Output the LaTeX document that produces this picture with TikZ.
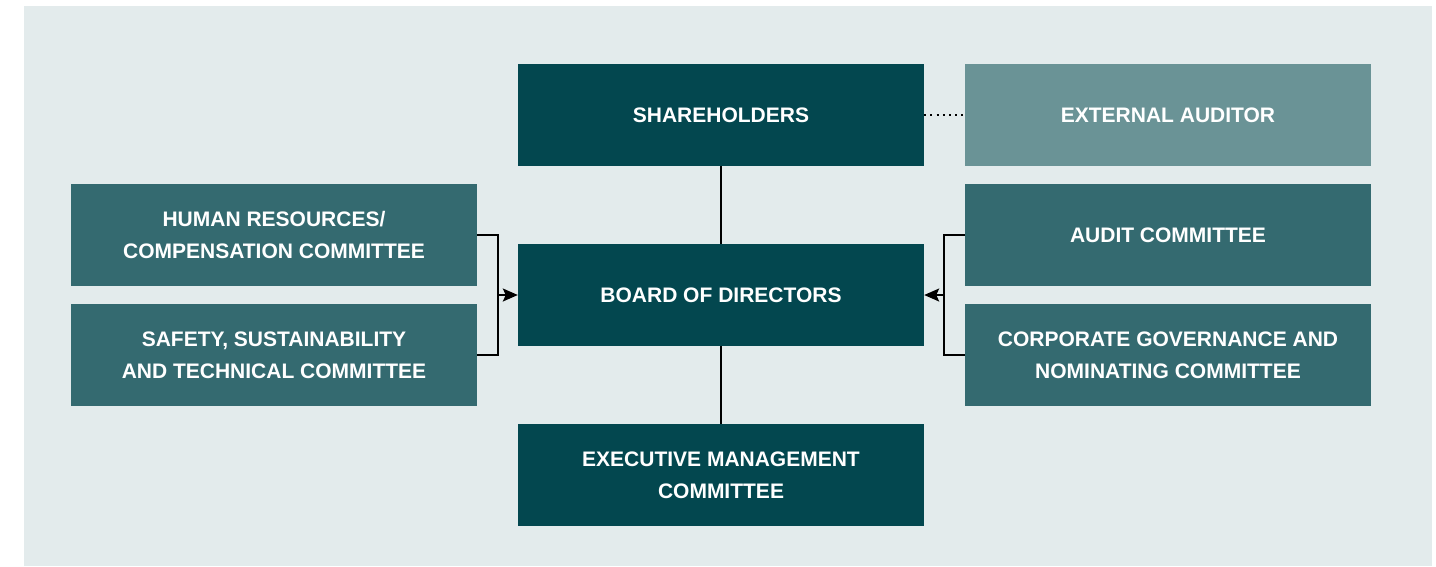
\documentclass[tikz,border=0pt]{standalone}
\usepackage{fontspec}
\setsansfont{Liberation Sans}
\usetikzlibrary{arrows.meta}

\definecolor{deepteal}{HTML}{03474F}
\definecolor{midteal}{HTML}{346A70}
\definecolor{paleteal}{HTML}{6A9396}
\definecolor{panel}{HTML}{E3EBEC}

\begin{document}
\begin{tikzpicture}[x=1pt, y=-1pt,
	box/.style={minimum width=406pt, minimum height=102pt, inner sep=0pt, align=center,
		text=white, font=\sffamily\bfseries\fontsize{21}{32}\selectfont},
	main/.style={box, fill=deepteal},
	committee/.style={box, fill=midteal},
	link/.style={line width=2pt, black},
	feed/.style={link, -{Stealth[length=15pt, width=13pt, inset=3pt]}}]
	% 1. canvas and panel
	\useasboundingbox (0,0) rectangle (1436,566);
	\fill[white] (0,0) rectangle (1436,566);
	\fill[panel] (24,6) rectangle (1432,566);
	
	% 2. central column
	\node[main] (share) at (721,115) {SHAREHOLDERS};
	\node[main] (board) at (721,295) {BOARD OF DIRECTORS};
	\node[main] (exec) at (721,475) {EXECUTIVE MANAGEMENT\\COMMITTEE};
	
	% 3. auditor and committees
	\node[box, fill=paleteal] (extaud) at (1168,115) {EXTERNAL AUDITOR};
	\node[committee] (hr) at (274,235) {HUMAN RESOURCES/\\COMPENSATION COMMITTEE};
	\node[committee] (safety) at (274,355) {SAFETY, SUSTAINABILITY\\AND TECHNICAL COMMITTEE};
	\node[committee] (audit) at (1168,235) {AUDIT COMMITTEE};
	\node[committee] (govern) at (1168,355) {CORPORATE GOVERNANCE AND\\NOMINATING COMMITTEE};
	
	% 4. connectors
	\draw[link] (share) -- (board);
	\draw[link] (board) -- (exec);
	\draw[link, line width=2.2pt, dash pattern=on 2pt off 4.2pt] (share.east) -- (extaud.west);
	
	% left bracket
	\coordinate (lspine) at (498,295);
	\draw[link] (hr.east) -| (lspine) |- (safety.east);
	\draw[feed] (lspine) -- (board.west);
	
	% right bracket
	\coordinate (rspine) at (944,295);
	\draw[link] (audit.west) -| (rspine) |- (govern.west);
	\draw[feed] (rspine) -- (board.east);
\end{tikzpicture}
\end{document}
